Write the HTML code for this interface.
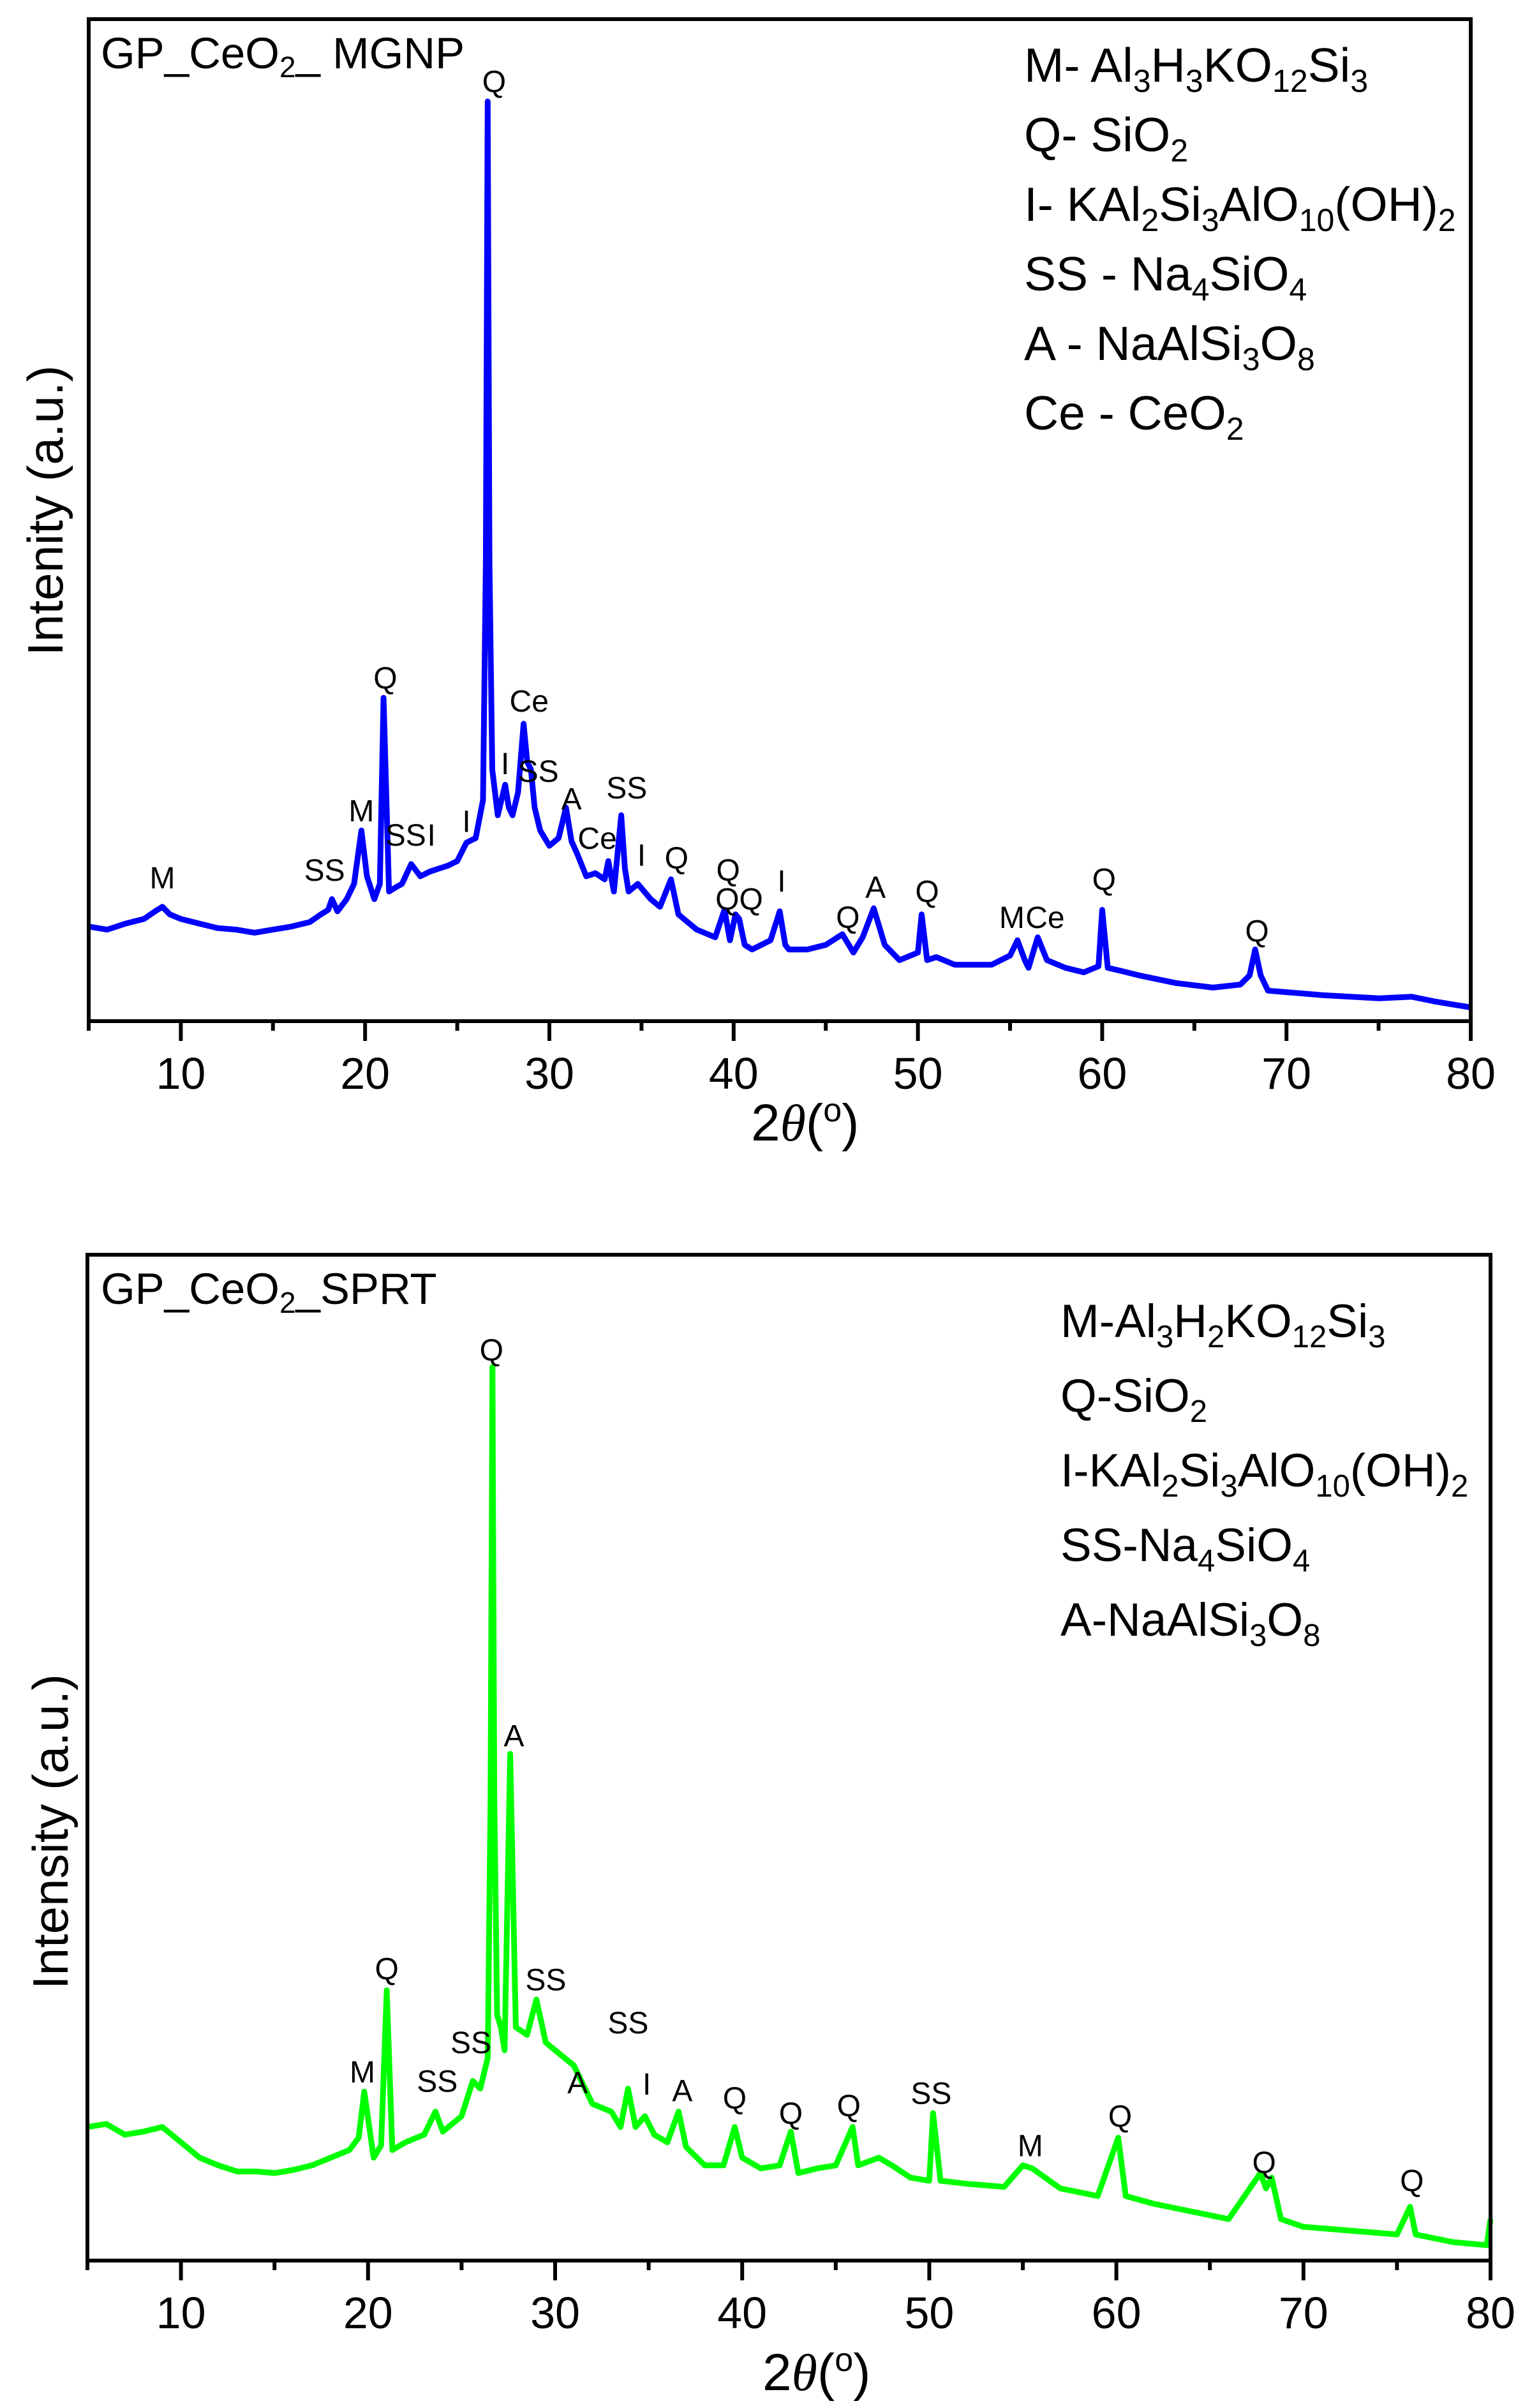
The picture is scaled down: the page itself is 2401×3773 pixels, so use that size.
<!DOCTYPE html>
<html><head><meta charset="utf-8"><title>XRD patterns</title>
<style>
html,body{margin:0;padding:0;background:#fff;}
svg{display:block;font-family:"Liberation Sans",Arial,sans-serif;}
</style></head>
<body>
<svg id="fig" width="2401" height="3773" viewBox="0 0 2401 3773" xmlns="http://www.w3.org/2000/svg">
<rect x="0" y="0" width="2401" height="3773" fill="#fff"/>
<g id="p1"></g>
<g id="p2"></g>

<text x="158" y="107" font-size="69" fill="#000">GP_CeO<tspan font-size="46" dy="14">2</tspan><tspan dy="-14">_ MGNP</tspan></text>
<g font-size="75" fill="#000">
<text x="1605" y="128">M- Al<tspan font-size="50" dy="16">3</tspan><tspan dy="-16">H</tspan><tspan font-size="50" dy="16">3</tspan><tspan dy="-16">KO</tspan><tspan font-size="50" dy="16">12</tspan><tspan dy="-16">Si</tspan><tspan font-size="50" dy="16">3</tspan></text>
<text x="1605" y="237">Q- SiO<tspan font-size="50" dy="16">2</tspan></text>
<text x="1605" y="346">I- KAl<tspan font-size="50" dy="16">2</tspan><tspan dy="-16">Si</tspan><tspan font-size="50" dy="16">3</tspan><tspan dy="-16">AlO</tspan><tspan font-size="50" dy="16">10</tspan><tspan dy="-16">(OH)</tspan><tspan font-size="50" dy="16">2</tspan></text>
<text x="1605" y="455">SS - Na<tspan font-size="50" dy="16">4</tspan><tspan dy="-16">SiO</tspan><tspan font-size="50" dy="16">4</tspan></text>
<text x="1605" y="564">A - NaAlSi<tspan font-size="50" dy="16">3</tspan><tspan dy="-16">O</tspan><tspan font-size="50" dy="16">8</tspan></text>
<text x="1605" y="673">Ce - CeO<tspan font-size="50" dy="16">2</tspan></text>
</g>

<text x="158" y="2043" font-size="69" fill="#000">GP_CeO<tspan font-size="46" dy="14">2</tspan><tspan dy="-14">_SPRT</tspan></text>
<g font-size="73" fill="#000">
<text x="1662" y="2095">M-Al<tspan font-size="49" dy="16">3</tspan><tspan dy="-16">H</tspan><tspan font-size="49" dy="16">2</tspan><tspan dy="-16">KO</tspan><tspan font-size="49" dy="16">12</tspan><tspan dy="-16">Si</tspan><tspan font-size="49" dy="16">3</tspan></text>
<text x="1662" y="2212">Q-SiO<tspan font-size="49" dy="16">2</tspan></text>
<text x="1662" y="2329">I-KAl<tspan font-size="49" dy="16">2</tspan><tspan dy="-16">Si</tspan><tspan font-size="49" dy="16">3</tspan><tspan dy="-16">AlO</tspan><tspan font-size="49" dy="16">10</tspan><tspan dy="-16">(OH)</tspan><tspan font-size="49" dy="16">2</tspan></text>
<text x="1662" y="2446">SS-Na<tspan font-size="49" dy="16">4</tspan><tspan dy="-16">SiO</tspan><tspan font-size="49" dy="16">4</tspan></text>
<text x="1662" y="2563">A-NaAlSi<tspan font-size="49" dy="16">3</tspan><tspan dy="-16">O</tspan><tspan font-size="49" dy="16">8</tspan></text>
</g>

<text transform="translate(98,800) rotate(-90)" text-anchor="middle" font-size="78" fill="#000">Intenity (a.u.)</text>
<text transform="translate(106,2870) rotate(-90)" text-anchor="middle" font-size="78" fill="#000">Intensity (a.u.)</text>

<text x="1177" y="1787" font-size="82" fill="#000">2<tspan font-family="Liberation Serif,serif" font-style="italic">θ</tspan><tspan>(</tspan><tspan font-size="52" dy="-30">o</tspan><tspan dy="30">)</tspan></text>
<text x="1195" y="3745" font-size="82" fill="#000">2<tspan font-family="Liberation Serif,serif" font-style="italic">θ</tspan><tspan>(</tspan><tspan font-size="52" dy="-30">o</tspan><tspan dy="30">)</tspan></text>
</svg>
<script>
// ---- top panel data (GP_CeO2_MGNP) ----
const topAngles = [5,6,7,8,8.6,9,9.4,10,11,12,13,14,15,16,17,17.6,18,18.2,18.5,19,19.4,19.8,20.1,20.5,20.8,21,21.3,21.7,22,22.5,23,23.5,24,24.5,25,25.5,26,26.4,26.55,26.65,26.75,26.9,27.2,27.6,27.8,28,28.3,28.6,28.8,29,29.2,29.5,30,30.5,30.9,31.2,31.5,32,32.5,33,33.2,33.5,33.9,34.1,34.3,34.8,35.5,36,36.6,37,37.5,38,39,39.5,39.8,40.1,40.3,40.6,41,42,42.5,42.8,43,44,45,45.9,46.5,47,47.6,48.2,49,50,50.2,50.5,51,52,53,54,55,55.4,55.8,56,56.5,57,58,59,59.8,60,60.3,61,62,64,66,67.5,68,68.3,68.6,69,70,72,75,76.8,78,80];
const topIntensity = [62,60,64,67,72,75,70,67,64,61,60,58,60,62,65,70,73,80,72,80,90,125,95,80,90,212,85,88,90,103,95,98,100,102,105,117,120,145,300,603,300,165,135,155,140,135,150,195,170,165,140,125,115,120,140,118,110,95,97,93,105,85,135,100,85,90,80,75,93,70,65,60,55,73,53,70,67,50,47,53,72,50,47,47,50,57,45,55,74,50,40,45,70,40,42,37,37,37,43,53,40,35,55,40,35,32,36,73,35,33,30,25,22,24,30,47,30,20,19,17,15,16,13,9];
const topLabelText = ["M","SS","M","Q","SS","I","I","Q","I","Ce","SS","A","Ce","SS","I","Q","Q","QQ","I","Q","A","Q","M","Ce","Q","Q"];
const topLabelAngle = [9,17.8,19.8,21.1,22.2,23.6,25.5,27.0,27.6,28.9,29.4,31.2,32.6,34.2,35,36.9,39.7,40.3,42.6,46.2,47.7,50.5,55.1,56.9,60.1,68.4];
const topLabelLevel = [87,92,131,218,115,115,124,609,162,203,157,139,113,146,102,100,92,73,85,61,81,78,61,61,86,52];

// ---- bottom panel data (GP_CeO2_SPRT) ----
const botAngles = [5,6,7,8,9,10,11,12,13,14,15,16,17,18,19,19.5,19.8,20.3,20.7,21,21.3,22,23,23.6,24,25,25.6,26,26.4,26.55,26.65,26.75,26.9,27.1,27.3,27.6,27.9,28.5,29,29.5,30,31,32,33,33.5,33.9,34.3,34.8,35.3,36,36.6,37,38,39,39.6,40,41,42,42.6,43,44,45,45.9,46.2,47.3,48,49,50,50.2,50.6,52,54,55,55.5,57,59,60.1,60.5,62,64,66,67.7,68,68.3,68.8,70,72,75,75.7,76,78,79.8,80];
const botIntensity = [87,89,82,84,87,77,67,62,58,58,57,59,62,67,72,80,110,67,75,176,72,77,82,97,84,94,117,112,132,300,582,300,160,152,137,330,152,147,170,142,137,127,102,97,87,112,87,94,82,77,97,74,62,62,87,67,60,62,84,57,60,62,87,62,67,62,54,52,96,52,50,48,62,60,47,42,80,42,37,32,27,57,47,54,27,22,20,17,35,17,12,10,27];
const botLabelText = ["M","Q","SS","SS","Q","A","SS","A","SS","I","A","Q","Q","Q","SS","M","Q","Q","Q"];
const botLabelAngle = [19.7,21,23.7,25.5,26.6,27.8,29.5,31.2,33.9,34.9,36.8,39.6,42.6,45.7,50.1,55.4,60.2,67.9,75.8];
const botLabelLevel = [116,183,110,135,586,335,176,109,148,108,104,99,89,94,102,68,87,57,45];

const tickValues = [10,20,30,40,50,60,70,80];
const minorTicks = [5,15,25,35,45,55,65,75];

const NS = "http://www.w3.org/2000/svg";
function mk(tag, attrs, parent){
  const e = document.createElementNS(NS, tag);
  for (const k in attrs) e.setAttribute(k, attrs[k]);
  parent.appendChild(e);
  return e;
}

function panel(g, box, angles, inten, ymax, color, lText, lAngle, lLevel){
  const sx = v => box.l + (v - 5) / 75 * (box.r - box.l);
  const sy = v => box.b - v / ymax * (box.b - box.t);
  let d = "";
  angles.forEach((a,i)=>{ d += (i? "L":"M") + sx(a).toFixed(1) + "," + sy(inten[i]).toFixed(1); });
  const path = mk("path", {d:d, fill:"none", stroke:color, "stroke-width":9, "stroke-linejoin":"round"}, g);
  
  
  const fr = mk("rect", {x:box.l, y:box.t, width:box.r-box.l, height:box.b-box.t, fill:"none", stroke:"#000", "stroke-width":6}, g);
  
  
  tickValues.forEach(v=>{
    const t = mk("line", {x1:sx(v), x2:sx(v), y1:box.b, y2:box.b+31, stroke:"#000", "stroke-width":6}, g);
    
    
    const tx = mk("text", {x:sx(v), y:box.b+106, "font-size":70, "text-anchor":"middle", fill:"#000"}, g);
    
    
    tx.textContent = v;
  });
  minorTicks.forEach(v=>{
    const t = mk("line", {x1:sx(v), x2:sx(v), y1:box.b, y2:box.b+15, stroke:"#000", "stroke-width":6}, g);
    
    
  });
  lText.forEach((s,i)=>{
    const tx = mk("text", {x:sx(lAngle[i]), y:sy(lLevel[i]), "font-size":48, "text-anchor":"middle", fill:"#000"}, g);
    
    
    tx.textContent = s;
  });
}

panel(document.getElementById("p1"), {l:139,r:2305,t:30,b:1600}, topAngles, topIntensity, 657, "#0000ff", topLabelText, topLabelAngle, topLabelLevel);
panel(document.getElementById("p2"), {l:137,r:2336,t:1966,b:3542}, botAngles, botIntensity, 655, "#00ff00", botLabelText, botLabelAngle, botLabelLevel);
</script>
</body></html>
